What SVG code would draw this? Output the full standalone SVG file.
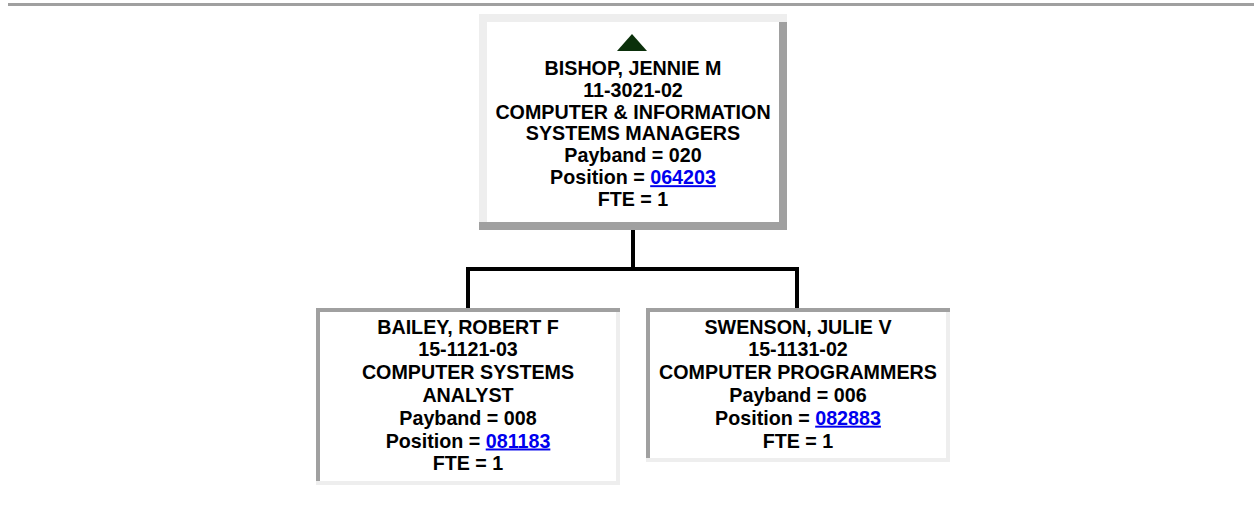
<svg xmlns="http://www.w3.org/2000/svg" width="1254" height="509" viewBox="0 0 1254 509">
<style>
.t{font-family:"Liberation Sans",Arial,sans-serif;font-weight:bold;font-size:19.7px;fill:#000;text-anchor:middle}
.lk{fill:#0000ee;text-decoration:underline}
.lt{fill:#eeeeee}
.dk{fill:#a0a0a0}
.conn{fill:none;stroke:#000;stroke-width:4;stroke-linejoin:miter;stroke-linecap:butt}
</style>
<rect width="1254" height="509" fill="#fff"/>
<rect x="8" y="3" width="1246" height="3" class="dk"/>
<g id="connectors">
<path class="conn" d="M633 230 V269"/>
<path class="conn" d="M468 308 V269 H797 V308"/>
</g>
<g id="node-bishop">
<rect x="479" y="14" width="308" height="216" fill="#fff"/>
<rect class="lt" x="479" y="14" width="308" height="8"/>
<rect class="lt" x="479" y="22" width="8" height="200"/>
<rect class="dk" x="779" y="22" width="8" height="208"/>
<rect class="dk" x="479" y="222" width="308" height="8"/>
<polygon points="632,34 647,51 617,51" fill="#0b300b"/>
<text class="t" x="633" y="74.7">BISHOP, JENNIE M</text>
<text class="t" x="633" y="96.6">11-3021-02</text>
<text class="t" x="633" y="118.5">COMPUTER &amp; INFORMATION</text>
<text class="t" x="633" y="140.4">SYSTEMS MANAGERS</text>
<text class="t" x="633" y="162.3">Payband = 020</text>
<text class="t" x="633" y="184.2">Position = <tspan class="lk">064203</tspan></text>
<text class="t" x="633" y="206.1">FTE = 1</text>
</g>
<g id="node-bailey">
<rect x="316" y="308" width="304" height="177" fill="#fff"/>
<rect class="dk" x="316" y="308" width="304" height="4"/>
<rect class="dk" x="316" y="312" width="4" height="169"/>
<rect class="lt" x="616" y="312" width="4" height="169"/>
<rect class="lt" x="316" y="481" width="304" height="4"/>
<text class="t" x="468" y="333.5">BAILEY, ROBERT F</text>
<text class="t" x="468" y="356.3">15-1121-03</text>
<text class="t" x="468" y="379.1">COMPUTER SYSTEMS</text>
<text class="t" x="468" y="401.9">ANALYST</text>
<text class="t" x="468" y="424.7">Payband = 008</text>
<text class="t" x="468" y="447.5">Position = <tspan class="lk">081183</tspan></text>
<text class="t" x="468" y="470.3">FTE = 1</text>
</g>
<g id="node-swenson">
<rect x="646" y="308" width="304" height="154" fill="#fff"/>
<rect class="dk" x="646" y="308" width="304" height="4"/>
<rect class="dk" x="646" y="312" width="4" height="146"/>
<rect class="lt" x="946" y="312" width="4" height="146"/>
<rect class="lt" x="646" y="458" width="304" height="4"/>
<text class="t" x="798" y="333.5">SWENSON, JULIE V</text>
<text class="t" x="798" y="356.3">15-1131-02</text>
<text class="t" x="798" y="379.1">COMPUTER PROGRAMMERS</text>
<text class="t" x="798" y="401.9">Payband = 006</text>
<text class="t" x="798" y="424.7">Position = <tspan class="lk">082883</tspan></text>
<text class="t" x="798" y="447.5">FTE = 1</text>
</g>
</svg>
